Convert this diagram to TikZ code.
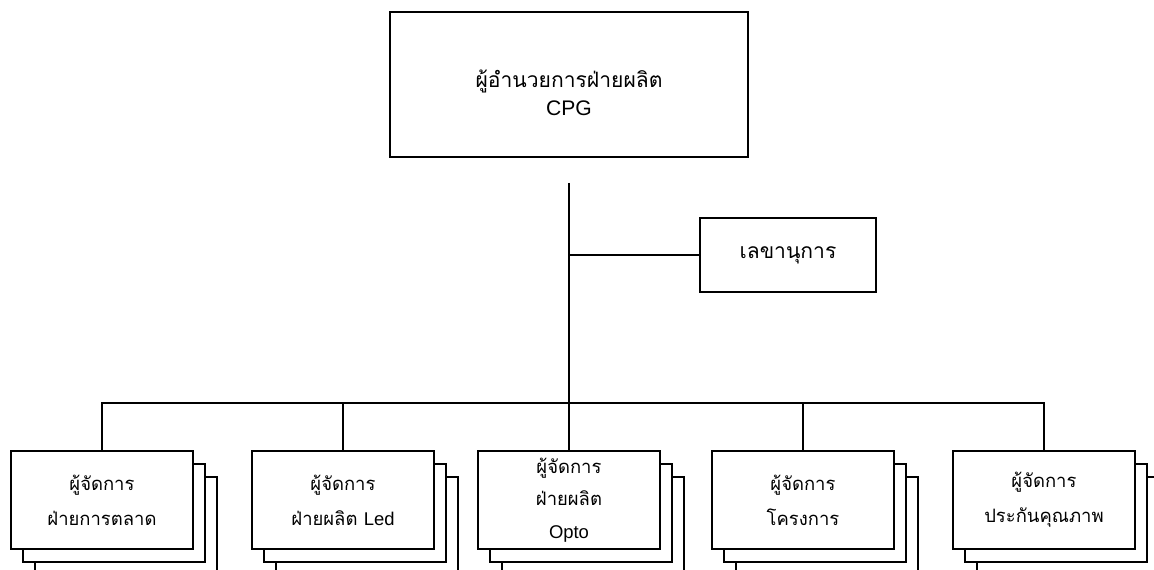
\documentclass[tikz,border=0pt]{standalone}
\usepackage{fontspec}
\setmainfont{Liberation Sans}
\newfontfamily\thaifont[Script=Thai]{Loma}
\usetikzlibrary{positioning,shadows}

\begin{document}
\begin{tikzpicture}[x=0.02cm,y=-0.02cm,line width=0.9pt,
	box/.style={draw,fill=white,align=center,inner sep=0pt,font=\thaifont\fontsize{12}{19}\selectfont},
	mgr/.style={box,minimum width=3.64cm,minimum height=1.96cm,font=\thaifont\fontsize{10.5}{20}\selectfont,
		copy shadow={shadow xshift=0.48cm,shadow yshift=-0.52cm},
		copy shadow={shadow xshift=0.24cm,shadow yshift=-0.26cm}}]
	\clip (0,0) rectangle (1154,570);
	\node[box,minimum width=7.16cm,minimum height=2.9cm,text height=35pt] (dir) at (569,84.5) {ผู้อำนวยการฝ่ายผลิต\\[-3pt]{\normalfont CPG}};
	\node[box,minimum width=3.52cm,minimum height=1.48cm] (sec) at (788,255) {เลขานุการ};
	\node[mgr] (mkt) at (102,500) {ผู้จัดการ\\ฝ่ายการตลาด};
	\node[mgr] (led) at (343,500) {ผู้จัดการ\\ฝ่ายผลิต {\normalfont Led}};
	\node[mgr,font=\thaifont\fontsize{10.5}{18.5}\selectfont] (opto) at (569,500) {ผู้จัดการ\\ฝ่ายผลิต\\{\normalfont Opto}};
	\node[mgr] (proj) at (803,500) {ผู้จัดการ\\โครงการ};
	\node[mgr] (qa) at (1044,500) {ผู้จัดการ\\ประกันคุณภาพ};
	\coordinate (trunk) at (569,183);
	\coordinate (bus) at (569,403);
	\draw (trunk) -- (bus);
	\draw (sec.west) -- (sec.west -| trunk);
	\draw (mkt.north) |- (bus) -| (qa.north);
	\foreach \n in {led,opto,proj}
		\draw (\n.north) -- (\n.north |- bus);
\end{tikzpicture}
\end{document}
